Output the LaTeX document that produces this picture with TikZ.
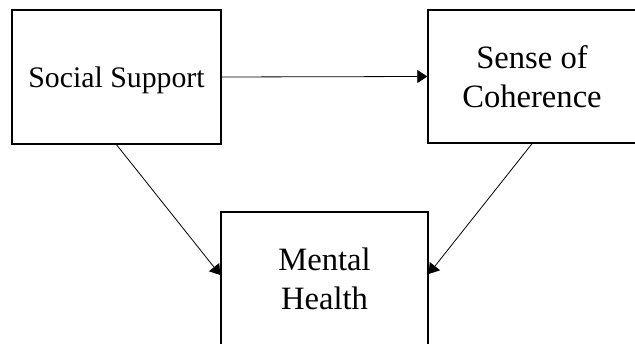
\documentclass[tikz,border=0pt]{standalone}
\usepackage{fontspec}
\setmainfont{Liberation Serif}
\usetikzlibrary{arrows.meta}
\begin{document}
\begin{tikzpicture}[x=1pt,y=-1pt,
  box/.style={draw, line width=1.4pt, minimum width=209pt, minimum height=134pt,
    align=center, inner sep=0pt, font=\fontsize{32.6}{39}\selectfont},
  conn/.style={line width=0.8pt, -{Triangle[length=10pt,width=13pt]}}]
\useasboundingbox (0,0) rectangle (635,344);
\node[box, font=\fontsize{29.8}{36}\selectfont] (ss) at (116.5,77) {\raisebox{-3pt}[\height][\depth]{Social Support}};
\node[box, minimum width=208pt, minimum height=133pt] (sc) at (532,76.5) {Sense of\\Coherence};
\node[box, minimum width=207pt] (mh) at (324.5,279) {Mental\\Health};
\draw[conn] (ss.east) -- (sc.west);
\draw[conn] (ss.south) -- ([yshift=4pt]mh.west);
\draw[conn] (sc.south) -- ([yshift=5pt]mh.east);
\end{tikzpicture}
\end{document}
